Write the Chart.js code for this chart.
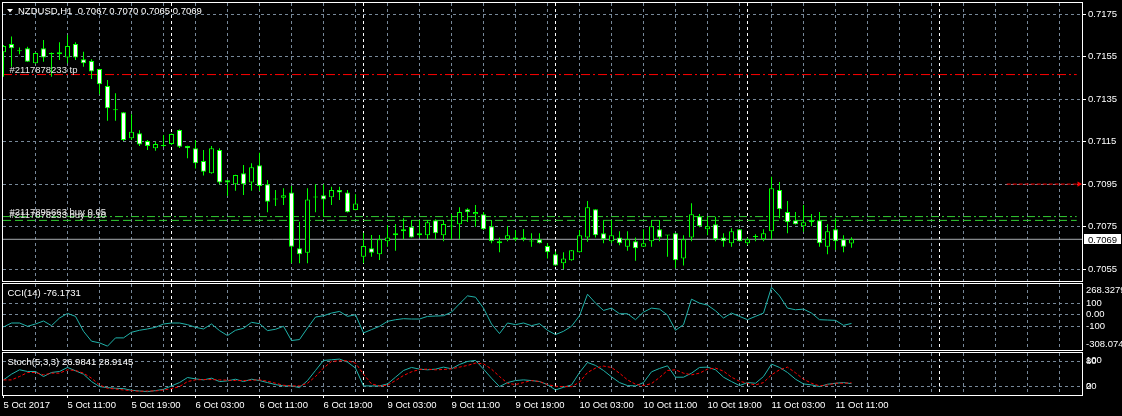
<!DOCTYPE html>
<html>
<head>
<meta charset="utf-8">
<title>NZDUSD,H1</title>
<script src="https://cdn.jsdelivr.net/npm/chart.js@4.4.1/dist/chart.umd.min.js"></script>
<style>
  html, body { margin: 0; padding: 0; background: #000; overflow: hidden; }
  #wrap { position: relative; width: 1122px; height: 416px; background: #000; }
  #wrap canvas { position: absolute; left: 0; }
</style>
</head>
<body>
<div id="wrap">
  <canvas id="main" width="1122" height="282" style="top:0px"></canvas>
  <canvas id="cci" width="1122" height="70" style="top:282px"></canvas>
  <canvas id="stoch" width="1122" height="64" style="top:352px"></canvas>
</div>
<script>
// NZDUSD H1, one value per bar, bar 0 = 5 Oct 2017 03:00
const symbol = 'NZDUSD,H1';
const opens = [0.71571,0.71610,0.71577,0.71590,0.71519,0.71590,0.71562,0.71571,0.71547,0.71610,
  0.71538,0.71530,0.71492,0.71412,0.71299,0.71288,0.71166,0.71189,0.71153,0.71119,
  0.71130,0.71139,0.71205,0.71130,0.71119,0.71059,0.71001,0.71111,0.70968,0.70949,
  0.71001,0.70957,0.71039,0.70949,0.70878,0.70886,0.70911,0.70648,0.70627,0.70888,
  0.70897,0.70888,0.70922,0.70911,0.70828,0.70608,0.70648,0.70619,0.70681,0.70709,
  0.70728,0.70749,0.70709,0.70709,0.70780,0.70709,0.70751,0.70761,0.70831,0.70808,
  0.70808,0.70751,0.70671,0.70690,0.70699,0.70699,0.70681,0.70690,0.70658,0.70619,
  0.70577,0.70591,0.70629,0.70699,0.70831,0.70718,0.70681,0.70699,0.70655,0.70681,
  0.70655,0.70681,0.70737,0.70709,0.70718,0.70600,0.70699,0.70798,0.70737,0.70761,
  0.70699,0.70671,0.70737,0.70671,0.70702,0.70690,0.70728,0.70922,0.70819,0.70780,
  0.70751,0.70780,0.70780,0.70655,0.70737,0.70690,0.70670];
const highs = [0.71605,0.71645,0.71593,0.71597,0.71570,0.71629,0.71570,0.71618,0.71653,0.71618,
  0.71574,0.71538,0.71494,0.71440,0.71378,0.71290,0.71279,0.71204,0.71158,0.71150,
  0.71181,0.71188,0.71207,0.71131,0.71158,0.71111,0.71130,0.71119,0.70969,0.70994,
  0.71040,0.71048,0.71098,0.70969,0.70922,0.70930,0.70941,0.70773,0.70930,0.70949,
  0.70949,0.70938,0.70938,0.70922,0.70902,0.70721,0.70710,0.70710,0.70757,0.70762,
  0.70789,0.70781,0.70781,0.70781,0.70784,0.70781,0.70809,0.70841,0.70836,0.70852,
  0.70819,0.70781,0.70699,0.70751,0.70734,0.70738,0.70718,0.70718,0.70671,0.70632,
  0.70629,0.70640,0.70734,0.70870,0.70832,0.70781,0.70781,0.70728,0.70728,0.70699,
  0.70737,0.70781,0.70781,0.70710,0.70719,0.70709,0.70860,0.70809,0.70796,0.70796,
  0.70718,0.70742,0.70738,0.70699,0.70714,0.70737,0.70985,0.70960,0.70870,0.70819,
  0.70852,0.70809,0.70819,0.70761,0.70789,0.70709,0.70700];
const lows = [0.71456,0.71503,0.71562,0.71525,0.71517,0.71527,0.71456,0.71535,0.71519,0.71535,
  0.71503,0.71445,0.71373,0.71249,0.71249,0.71153,0.71158,0.71130,0.71111,0.71107,
  0.71125,0.71134,0.71120,0.71072,0.71023,0.70990,0.70999,0.70949,0.70894,0.70919,
  0.70899,0.70919,0.70919,0.70817,0.70847,0.70852,0.70577,0.70577,0.70577,0.70817,
  0.70796,0.70852,0.70875,0.70816,0.70827,0.70577,0.70608,0.70592,0.70655,0.70636,
  0.70690,0.70698,0.70699,0.70690,0.70690,0.70681,0.70690,0.70690,0.70771,0.70749,
  0.70734,0.70671,0.70629,0.70681,0.70681,0.70681,0.70655,0.70670,0.70600,0.70565,
  0.70550,0.70589,0.70628,0.70679,0.70699,0.70671,0.70671,0.70662,0.70636,0.70589,
  0.70654,0.70655,0.70681,0.70608,0.70553,0.70566,0.70681,0.70747,0.70709,0.70681,
  0.70655,0.70655,0.70680,0.70662,0.70681,0.70681,0.70690,0.70789,0.70718,0.70760,
  0.70726,0.70751,0.70655,0.70619,0.70640,0.70629,0.70650];
const closes = [0.71601,0.71590,0.71576,0.71527,0.71568,0.71547,0.71568,0.71562,0.71601,0.71547,
  0.71519,0.71480,0.71420,0.71307,0.71298,0.71158,0.71197,0.71136,0.71130,0.71139,
  0.71129,0.71186,0.71126,0.71119,0.71048,0.71008,0.71119,0.70957,0.70957,0.70993,
  0.70949,0.71029,0.70941,0.70867,0.70877,0.70897,0.70655,0.70619,0.70878,0.70887,
  0.70878,0.70922,0.70911,0.70817,0.70859,0.70658,0.70627,0.70690,0.70699,0.70718,
  0.70737,0.70699,0.70718,0.70770,0.70718,0.70762,0.70750,0.70819,0.70817,0.70819,
  0.70737,0.70681,0.70681,0.70709,0.70690,0.70690,0.70680,0.70671,0.70629,0.70566,
  0.70600,0.70638,0.70709,0.70841,0.70709,0.70690,0.70709,0.70671,0.70690,0.70648,
  0.70671,0.70751,0.70699,0.70708,0.70591,0.70690,0.70808,0.70751,0.70751,0.70690,
  0.70681,0.70728,0.70681,0.70690,0.70701,0.70718,0.70930,0.70831,0.70770,0.70761,
  0.70770,0.70770,0.70671,0.70728,0.70681,0.70655,0.70690];

const cci = [-106.9,-72.3,-72.3,-101.2,-80.9,-54.9,-95.4,-29,11.5,-14.5,
  -144.5,-231.2,-245.6,-274.5,-202.3,-202.3,-153.2,-135.8,-124.3,-109.8,
  -80.9,-72.3,-72.3,-86.7,-109.8,-124.3,-80.9,-138.7,-182.1,-135.8,
  -118.5,-66.5,-78.1,-138.7,-127.2,-101.2,-225.4,-216.7,-115.6,-20.3,
  -8.7,14.4,28.8,-14.5,-0.1,-158.9,-130,-101.2,-57.8,-43.4,
  -34.7,-37.6,-37.6,-14.5,-11.6,-8.7,23.1,95.3,164.6,153.1,
  57.7,-80.9,-164.7,-72.3,-86.7,-72.3,-95.4,-78.1,-135.8,-173.4,
  -144.5,-101.2,-8.7,179.1,101.1,37.5,57.7,8.6,8.6,-43.4,
  23.1,57.7,49.1,-2.9,-135.8,-86.7,135.7,101.1,83.7,34.6,
  -29,14.4,-14.5,-43.4,-14.5,14.4,239.7,164.6,57.7,43.3,
  49.1,14.4,-43.4,-46.3,-49.2,-92.5,-76.1731];
const cciMax = 268.3279, cciMin = -308.074;
const cciTicks = [-100, 0, 100];

const stochMain = [36,49.6,60,56,56,44,53.6,56,65.6,57.6,
  49.6,32,20,17.6,16,15.2,11.2,9.6,8,10.4,
  13.6,21.6,29.6,41.6,38.4,36,40,32,33.6,37.6,
  32,37.6,34.4,29.6,24.8,21.6,21.6,17.6,34.4,58.4,
  82.3,83.9,85.5,78.3,64,21.6,21.6,21.6,26.4,42.4,
  58.4,65.6,61.6,60,61.6,66.4,62.4,72.8,79.9,82.3,
  61.6,40,20,29.6,34.4,36,34.4,32,24.8,12,
  18.4,24,53.6,77.5,70.4,58.4,43.2,29.6,22.4,21.6,
  29.6,55.2,63.2,69.5,42.4,42.4,52,65.6,66.4,60,
  42.4,32,22.4,29.6,28,44,73.6,65.6,53.6,37.6,
  26.4,24,20,25.6,28,29.6,26.9841];
const stochSignal = [36,36,44,53.6,53.6,48,52,52,60,58.4,
  52,40,24,16,14.4,12,10.4,8.8,9.6,9.6,
  12,15.2,20,32,36,36.8,36.8,36,35.2,34.4,
  34.4,35.2,36,32.8,28,23.2,21.6,21.6,28,44,
  64,79.9,81.5,81.5,76,49.6,26.4,21.6,23.2,34.4,
  46.4,55.2,60.8,61.6,60,60.8,62.4,66.4,70.4,76,
  74.3,61.6,44,28,24.8,29.6,34.4,32,24.8,20.8,
  20,20,30.4,53.6,64,68.8,65.6,52,36,25.6,
  22.4,27.2,41.6,58.4,60,52,48,52,61.6,64,
  56.8,42.4,32.8,28,24,29.6,48,60,66.4,52.8,
  37.6,28,21.6,24,28,28,28.9145];
const stochTicks = [20, 80];

const priceTicks = [0.7055, 0.7075, 0.7095, 0.7115, 0.7135, 0.7155, 0.7175];
const labelBars = [0, 8, 16, 24, 32, 40, 48, 56, 64, 72, 80, 88, 96, 104];
const labelTexts = ['5 Oct 2017', '5 Oct 11:00', '5 Oct 19:00', '6 Oct 03:00', '6 Oct 11:00',
  '6 Oct 19:00', '9 Oct 03:00', '9 Oct 11:00', '9 Oct 19:00', '10 Oct 03:00', '10 Oct 11:00',
  '10 Oct 19:00', '11 Oct 03:00', '11 Oct 11:00'];
const sepBars = [21, 45, 69, 93, 117];   // day separators

// order lines
const tpPrice = 0.71466, tpLabel = '#2117878233 tp';
const buyPrices = [0.70797, 0.70779];
const buyLabels = ['#2117895663 buy 0.05', '#2117878233 buy 0.10'];
const bidPrice = 0.7069;
const alertPrice = 0.7095;

const FONT = "'Liberation Sans', Arial, sans-serif";
const FSIZE = 9.5;
const GRID = '#778899';
const LIME = '#00ff00';
const TEAL = '#20b2aa';
const CLEAR = 'rgba(0,0,0,0)';
const X_MIN = -0.0625, X_MAX = 134.8125;
const LINE_END = 134.15;

const gridBars = [];
for (let b = 0; b <= 132; b += 4) gridBars.push(b);
sepBars.forEach(b => gridBars.push(b));
gridBars.sort((a, b) => a - b);

const bars = opens.map((_, i) => i);
const last = bars.length - 1;

function xAxis(showLabels) {
  return {
    type: 'linear', min: X_MIN, max: X_MAX, offset: false, bounds: 'data',
    afterBuildTicks: s => { s.ticks = gridBars.map(v => ({ value: v })); },
    afterFit: s => { s.height = showLabels ? 21 : 0; s.paddingLeft = 0; s.paddingRight = 0; },
    ticks: {
      display: showLabels, autoSkip: false, maxRotation: 0, align: 'start', padding: 2,
      color: '#ffffff', font: { family: FONT, size: FSIZE },
      callback: v => { const k = labelBars.indexOf(v); return k >= 0 ? labelTexts[k] : ''; }
    },
    grid: {
      offset: false, drawTicks: showLabels, tickLength: 3, tickBorderDash: [],
      color: c => !c.tick || c.tick.value === 0 ? CLEAR : (sepBars.includes(c.tick.value) ? '#ffffff' : GRID),
      tickColor: c => c.tick && labelBars.includes(c.tick.value) ? '#ffffff' : CLEAR
    },
    border: { display: false, dash: [3, 3] }
  };
}

function yAxis(min, max, tickValues, fmt, marks) {
  return {
    position: 'right', min, max, bounds: 'data', beginAtZero: false,
    afterBuildTicks: s => { s.ticks = tickValues.map(v => ({ value: v })); },
    afterFit: s => { s.width = 40; s.paddingTop = 0; s.paddingBottom = 0; },
    ticks: { color: '#ffffff', font: { family: FONT, size: FSIZE }, padding: marks ? 2 : 4, autoSkip: false, callback: fmt },
    grid: { color: GRID, drawTicks: marks, tickLength: 4, tickColor: '#ffffff', tickBorderDash: [] },
    border: { display: false, dash: [3, 3] }
  };
}

function baseOptions(padding, scales) {
  return {
    responsive: false, animation: false, events: [], devicePixelRatio: 1,
    layout: { padding, autoPadding: false },
    plugins: { legend: { display: false }, tooltip: { enabled: false } },
    scales
  };
}

function frame(ctx, a) {
  ctx.strokeStyle = '#ffffff';
  ctx.lineWidth = 1;
  ctx.setLineDash([]);
  ctx.strokeRect(a.left - 0.5, a.top - 0.5, a.right - a.left + 1, a.bottom - a.top + 1);
}

function hline(price, color, dash, x0, x1) {
  return {
    type: 'line', data: [{ x: x0, y: price }, { x: x1, y: price }],
    borderColor: color, borderWidth: 1, borderDash: dash, pointRadius: 0, order: 3
  };
}

const mainDecor = {
  id: 'mainDecor',
  afterDraw(chart) {
    const { ctx, chartArea: a } = chart;
    const y = chart.scales.y;
    ctx.save();
    frame(ctx, a);
    ctx.font = FSIZE + 'px ' + FONT;
    ctx.textBaseline = 'alphabetic';
    ctx.textAlign = 'left';
    ctx.fillStyle = '#ffffff';
    ctx.beginPath(); ctx.moveTo(7, 9); ctx.lineTo(13, 9); ctx.lineTo(10, 12.5); ctx.closePath(); ctx.fill();
    const q = [opens[last], highs[last], lows[last], closes[last]].map(v => v.toFixed(4)).join(' ');
    ctx.fillText(symbol + '  ' + q, 18, 14);
    ctx.fillStyle = '#e6e6e6';
    ctx.fillText(tpLabel, 9.5, y.getPixelForValue(tpPrice) - 2);
    buyLabels.forEach((s, k) => ctx.fillText(s, 9.5, y.getPixelForValue(buyPrices[k]) - 2));
    const yb = Math.round(y.getPixelForValue(bidPrice));
    ctx.fillStyle = '#ffffff';
    ctx.fillRect(a.right + 2, yb - 5, 37, 10);
    ctx.fillStyle = '#000000';
    ctx.fillText(bidPrice.toFixed(4), a.right + 6, yb + 3.5);
    ctx.restore();
  }
};

new Chart(document.getElementById('main'), {
  type: 'bar',
  data: {
    datasets: [
      {
        type: 'bar', data: bars.map(i => ({ x: i, y: [opens[i], closes[i]] })),
        backgroundColor: bars.map(i => closes[i] < opens[i] ? '#ffffff' : '#000000'),
        borderColor: LIME, borderWidth: 1, borderSkipped: false, inflateAmount: 0,
        barThickness: 5, grouped: false, minBarLength: 1, order: 0
      },
      {
        type: 'bar', data: bars.map(i => ({ x: i, y: [lows[i], highs[i]] })),
        backgroundColor: LIME, borderWidth: 0, inflateAmount: 0,
        barThickness: 1, grouped: false, order: 1
      },
      hline(tpPrice, '#ff0000', [9, 3, 2, 3], X_MIN, LINE_END),
      hline(buyPrices[0], '#32cd32', [8, 3, 2, 3], X_MIN, LINE_END),
      hline(buyPrices[1], '#32cd32', [8, 4], X_MIN, LINE_END),
      hline(bidPrice, '#a8acb0', [], X_MIN, X_MAX),
      {
        type: 'line', data: [{ x: 125.4, y: alertPrice }, { x: 134.44, y: alertPrice }],
        borderColor: '#ff0000', borderWidth: 1, borderDash: [4, 2],
        pointRadius: [0, 3], pointStyle: 'triangle', rotation: 90,
        pointBackgroundColor: '#ff0000', pointBorderWidth: 0, order: 2
      }
    ]
  },
  options: baseOptions({ left: 3, right: 0, top: 3, bottom: 1 }, {
    x: xAxis(false),
    y: yAxis(0.704935, 0.718032, priceTicks, v => v.toFixed(4), true)
  }),
  plugins: [mainDecor]
});

const cciDecor = {
  id: 'cciDecor',
  afterDraw(chart) {
    const { ctx, chartArea: a } = chart;
    ctx.save();
    frame(ctx, a);
    ctx.font = FSIZE + 'px ' + FONT;
    ctx.fillStyle = '#ffffff';
    ctx.textAlign = 'left';
    ctx.textBaseline = 'alphabetic';
    ctx.fillText('CCI(14) ' + cci[last].toFixed(4), 7.5, a.top + 11.5);
    ctx.textBaseline = 'middle';
    ctx.fillText(String(cciMax), a.right + 4, a.top + 6);
    ctx.fillText(String(cciMin), a.right + 4, a.bottom - 6);
    ctx.restore();
  }
};

new Chart(document.getElementById('cci'), {
  type: 'line',
  data: {
    datasets: [{
      data: bars.map(i => ({ x: i, y: cci[i] })),
      borderColor: TEAL, borderWidth: 1, pointRadius: 0, tension: 0, fill: false
    }]
  },
  options: baseOptions({ left: 3, right: 0, top: 2, bottom: 2 }, {
    x: xAxis(false),
    y: yAxis(cciMin, cciMax, cciTicks, v => v === 0 ? '0.00' : String(v), false)
  }),
  plugins: [cciDecor]
});

const stochDecor = {
  id: 'stochDecor',
  afterDraw(chart) {
    const { ctx, chartArea: a } = chart;
    const y = chart.scales.y;
    ctx.save();
    frame(ctx, a);
    ctx.font = FSIZE + 'px ' + FONT;
    ctx.fillStyle = '#ffffff';
    ctx.textAlign = 'left';
    ctx.textBaseline = 'alphabetic';
    ctx.fillText('Stoch(5,3,3) ' + stochMain[last].toFixed(4) + ' ' + stochSignal[last].toFixed(4), 7.5, a.top + 11.5);
    ctx.textBaseline = 'middle';
    ctx.fillText('100', a.right + 4, y.getPixelForValue(stochTicks[1]) - 1);
    ctx.fillText('0', a.right + 4, y.getPixelForValue(stochTicks[0]));
    ctx.restore();
  }
};

new Chart(document.getElementById('stoch'), {
  type: 'line',
  data: {
    datasets: [
      {
        data: bars.map(i => ({ x: i, y: stochSignal[i] })),
        borderColor: '#ff0000', borderWidth: 1, borderDash: [3, 2], pointRadius: 0, tension: 0, fill: false
      },
      {
        data: bars.map(i => ({ x: i, y: stochMain[i] })),
        borderColor: TEAL, borderWidth: 1, pointRadius: 0, tension: 0, fill: false
      }
    ]
  },
  options: baseOptions({ left: 3, right: 0, top: 1, bottom: 0 }, {
    x: xAxis(true),
    y: yAxis(0, 100, stochTicks, v => String(v), false)
  }),
  plugins: [stochDecor]
});
</script>
</body>
</html>
